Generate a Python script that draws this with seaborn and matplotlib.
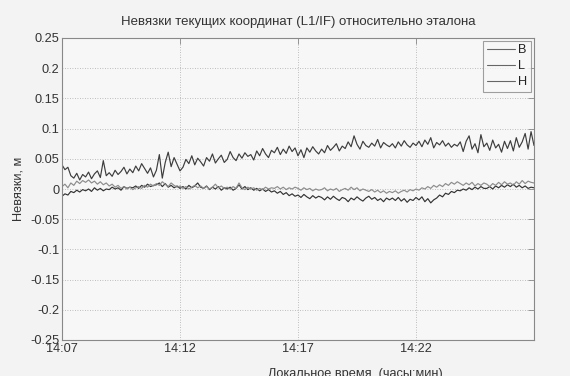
import numpy as np
import pandas as pd
import matplotlib
matplotlib.use("Agg")
import matplotlib.pyplot as plt
import seaborn as sns

title = "Невязки текущих координат (L1/IF) относительно эталона"
x_label = "Локальное время, (часы:мин)"
y_label = "Невязки, м"
series_names = ["B", "L", "H"]
x_tick_minutes = [0, 5, 10, 15]
x_tick_labels = ["14:07", "14:12", "14:17", "14:22"]
y_ticks = [0.25, 0.2, 0.15, 0.1, 0.05, 0, -0.05, -0.1, -0.15, -0.2, -0.25]
y_tick_labels = ["0.25", "0.2", "0.15", "0.1", "0.05", "0", "-0.05", "-0.1", "-0.15", "-0.2", "-0.25"]

# sample times: minutes after 14:07, every 7.5 s
minutes = [i * 0.125 for i in range(161)]

H = [
    0.040, 0.032, 0.036, 0.022, 0.018, 0.026, 0.015, 0.024,
    0.020, 0.028, 0.017, 0.025, 0.030, 0.019, 0.047, 0.022,
    0.027, 0.021, 0.031, 0.024, 0.029, 0.036, 0.025, 0.033,
    0.027, 0.038, 0.030, 0.042, 0.034, 0.026, 0.035, 0.020,
    0.031, 0.057, 0.018, 0.044, 0.061, 0.037, 0.052, 0.041,
    0.030, 0.036, 0.049, 0.042, 0.055, 0.040, 0.051, 0.045,
    0.038, 0.052, 0.046, 0.058, 0.043, 0.050, 0.056, 0.044,
    0.049, 0.062, 0.052, 0.047, 0.058, 0.051, 0.060, 0.054,
    0.057, 0.048, 0.063, 0.055, 0.067, 0.058, 0.052, 0.064,
    0.060, 0.069, 0.057, 0.066, 0.059, 0.071, 0.062, 0.068,
    0.055, 0.065, 0.052, 0.068, 0.061, 0.070, 0.063, 0.058,
    0.066, 0.060, 0.072, 0.064, 0.069, 0.075, 0.063, 0.071,
    0.067, 0.078, 0.070, 0.088, 0.074, 0.066, 0.079, 0.072,
    0.069, 0.076, 0.071, 0.082, 0.068, 0.077, 0.073, 0.070,
    0.075, 0.068, 0.078, 0.071, 0.080, 0.073, 0.069, 0.076,
    0.072, 0.079, 0.070, 0.081, 0.074, 0.085, 0.068, 0.077,
    0.073, 0.080, 0.071, 0.076, 0.069, 0.074, 0.071, 0.078,
    0.062, 0.079, 0.088, 0.066, 0.075, 0.060, 0.090, 0.070,
    0.076, 0.064, 0.081, 0.068, 0.074, 0.061, 0.079, 0.067,
    0.080, 0.063, 0.085, 0.069, 0.078, 0.092, 0.066, 0.095,
    0.072,
]

B = [
    -0.012, -0.008, -0.010, -0.004, -0.006, -0.002, -0.005, -0.001,
    -0.003, 0.000, -0.004, 0.002, -0.002, 0.001, -0.003, 0.000,
    -0.001, 0.003, 0.000, 0.002, -0.002, 0.004, 0.001, 0.003,
    0.002, 0.005, 0.001, 0.006, 0.003, 0.008, 0.004, 0.006,
    0.007, 0.010, 0.004, 0.009, 0.003, 0.006, 0.002, 0.005,
    0.001, 0.004, 0.000, 0.006, 0.002, 0.005, 0.010, 0.003,
    0.001, 0.005, -0.001, 0.003, 0.000, 0.004, -0.002, 0.002,
    0.000, 0.003, -0.002, 0.001, 0.007, 0.000, 0.004, -0.001,
    0.002, -0.002, 0.001, -0.003, 0.000, -0.004, -0.001, -0.005,
    -0.003, -0.007, -0.004, -0.009, -0.006, -0.011, -0.008, -0.012,
    -0.010, -0.014, -0.009, -0.013, -0.016, -0.011, -0.015, -0.012,
    -0.014, -0.018, -0.013, -0.017, -0.012, -0.016, -0.019, -0.014,
    -0.016, -0.021, -0.015, -0.018, -0.013, -0.017, -0.020, -0.015,
    -0.012, -0.017, -0.014, -0.019, -0.016, -0.021, -0.015, -0.018,
    -0.015, -0.019, -0.014, -0.020, -0.016, -0.022, -0.017, -0.019,
    -0.014, -0.018, -0.013, -0.021, -0.016, -0.023, -0.018, -0.015,
    -0.010, -0.013, -0.007, -0.009, -0.004, -0.006, -0.002, -0.003,
    0.000, -0.002, 0.002, -0.001, 0.003, 0.000, 0.004, 0.001,
    0.001, 0.004, 0.000, 0.005, 0.002, 0.006, 0.003, 0.007,
    0.004, 0.008, 0.003, 0.006, 0.002, 0.005, 0.001, 0.003,
    0.002,
]

L = [
    0.004, 0.008, 0.002, 0.010, 0.006, 0.013, 0.009, 0.014,
    0.011, 0.015, 0.010, 0.013, 0.008, 0.012, 0.007, 0.010,
    0.005, 0.008, 0.003, 0.006, 0.001, 0.004, 0.000, 0.003,
    -0.001, 0.002, 0.004, 0.001, 0.006, 0.003, 0.008, 0.005,
    0.009, 0.006, 0.012, 0.008, 0.004, 0.010, 0.006, 0.003,
    0.005, 0.001, 0.004, 0.000, 0.003, 0.006, 0.002, 0.005,
    0.001, 0.004, 0.000, 0.003, 0.008, 0.002, 0.005, 0.001,
    0.003, 0.000, 0.004, 0.001, 0.010, 0.002, -0.001, 0.003,
    0.000, 0.002, -0.002, 0.001, -0.001, 0.003, 0.000, 0.002,
    0.001, 0.004, 0.000, 0.003, -0.001, 0.002, 0.000, 0.003,
    0.001, -0.002, 0.002, -0.001, 0.001, -0.003, 0.000, -0.002,
    -0.001, 0.002, -0.003, 0.000, -0.002, 0.001, -0.004, -0.001,
    0.001, -0.002, 0.003, -0.001, 0.002, -0.003, 0.000, -0.002,
    -0.004, -0.001, -0.005, -0.002, -0.006, -0.003, -0.007, -0.004,
    -0.006, -0.003, -0.007, -0.004, -0.002, -0.005, -0.001, -0.003,
    0.000, -0.002, 0.002, 0.000, 0.004, 0.001, 0.006, 0.003,
    0.007, 0.004, 0.009, 0.006, 0.011, 0.008, 0.012, 0.009,
    0.006, 0.010, 0.007, 0.011, 0.005, 0.009, 0.006, 0.010,
    0.008, 0.004, 0.009, 0.006, 0.011, 0.007, 0.012, 0.008,
    0.010, 0.006, 0.012, 0.008, 0.014, 0.009, 0.013, 0.011,
    0.010,
]

df = pd.DataFrame({"t": minutes, "B": B, "L": L, "H": H})
long = df.melt(id_vars="t", value_vars=series_names, var_name="series", value_name="v")

sns.set_style("white")
plt.rcParams["font.family"] = ["Liberation Sans", "DejaVu Sans"]
plt.rcParams["axes.unicode_minus"] = False

fig = plt.figure(figsize=(5.7, 3.76), dpi=100, facecolor="#f3f3f3")
ax = fig.add_axes([62 / 570, 1 - 340 / 376, (534 - 62) / 570, (340 - 38) / 376])
ax.set_facecolor("#f7f7f7")

palette = {"B": "#333333", "L": "#8c8c8c", "H": "#3d3d3d"}
sns.lineplot(data=long, x="t", y="v", hue="series", hue_order=series_names,
             palette=palette, linewidth=0.85, ax=ax, legend=True)

ax.set_xlim(0, 20)
ax.set_ylim(-0.25, 0.25)
ax.set_xticks(x_tick_minutes)
ax.set_xticklabels(x_tick_labels)
ax.set_yticks(y_ticks)
ax.set_yticklabels(y_tick_labels)
ax.tick_params(direction="in", length=4, width=0.6, colors="#888888",
               labelcolor="#333333", labelsize=9.2, top=True, right=True,
               labeltop=False, labelright=False, pad=2)
ax.grid(True, linestyle=(0, (1, 2)), color="#aaaaaa", linewidth=0.6)
for s in ax.spines.values():
    s.set_color("#888888")
    s.set_linewidth(0.8)

ax.set_title(title, fontsize=9.5, color="#333333", pad=9)
ax.set_xlabel("")
ax.set_ylabel(y_label, fontsize=9.2, color="#333333", labelpad=4)
fig.text(355 / 570, 1 - 374 / 376, x_label, fontsize=9.2, color="#333333",
         ha="center", va="center")

leg = ax.legend(loc="upper right", fontsize=9.2, frameon=True, fancybox=False,
                handlelength=2.2, handletextpad=0.3, labelspacing=0.3,
                borderpad=0.3, borderaxespad=0.2)
leg.get_frame().set_edgecolor("#888888")
leg.get_frame().set_facecolor("#f7f7f7")
leg.get_frame().set_linewidth(0.8)
for line in leg.get_lines():
    line.set_color("#666666")
    line.set_linewidth(0.8)
for txt in leg.get_texts():
    txt.set_color("#222222")

fig.savefig("out.png", dpi=100, facecolor=fig.get_facecolor())
